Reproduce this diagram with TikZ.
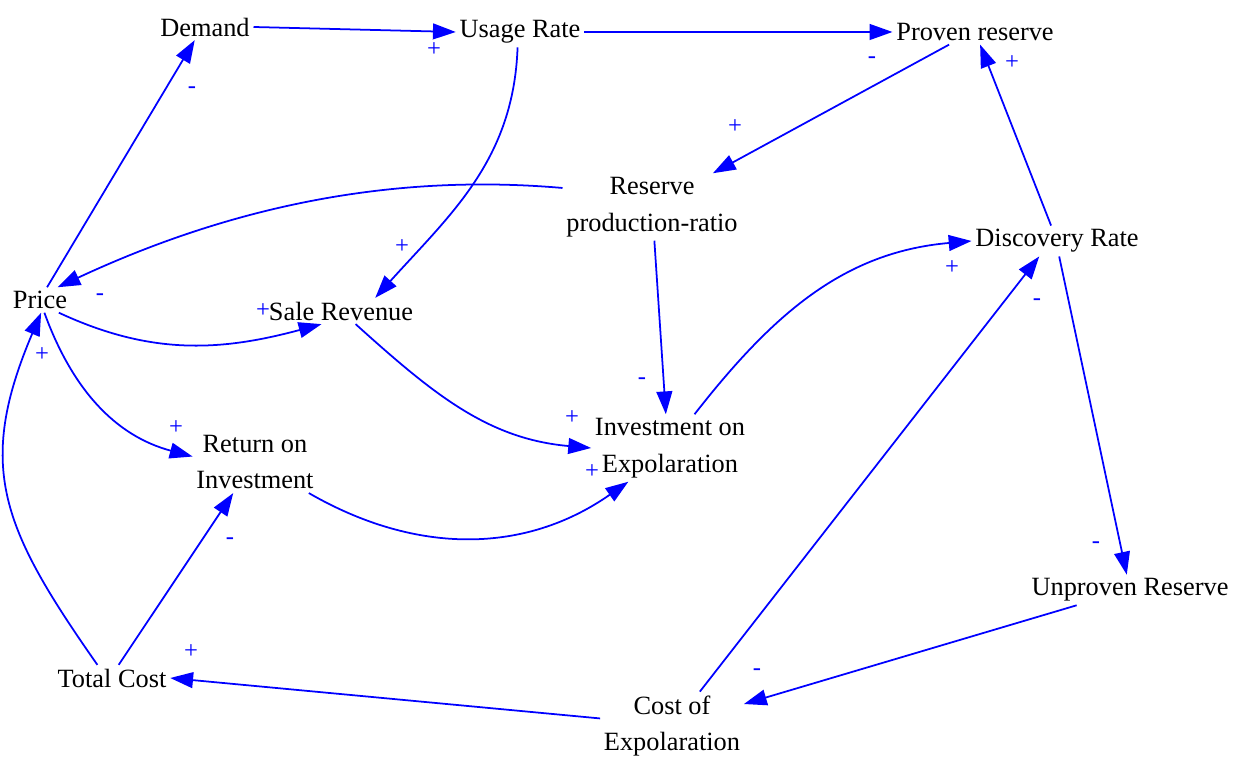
\documentclass[tikz,border=0pt]{standalone}
\usepackage{fontspec}
\setmainfont{Liberation Serif}
\usetikzlibrary{arrows.meta}

\begin{document}
\begin{tikzpicture}[x=0.02cm,y=0.02cm]
            \tikzset{VarStyle/.style={inner sep=2pt,align=center,font=\fontsize{15}{21}\selectfont}};
            \tikzset{SignStyle/.style={blue,inner sep=0pt,font=\fontsize{14}{14}\selectfont}};
            \tikzset{EdgeStyle/.style={blue,line width=1pt,-{Triangle[length=13pt,width=9pt]}}};
            \useasboundingbox (0,0) rectangle (1239,760);

            \node[VarStyle] (Demand) at (205,733) {Demand};
            \node[VarStyle] (Usage) at (520,728) {Usage Rate};
            \node[VarStyle] (Proven) at (975,728) {Proven reserve};
            \node[VarStyle] (Ratio) at (652,553) {Reserve\\production-ratio};
            \node[VarStyle] (Discovery) at (1057,519) {Discovery Rate};
            \node[VarStyle] (Price) at (40,460) {Price};
            \node[VarStyle] (Sale) at (341,449) {Sale Revenue};
            \node[VarStyle] (Invest) at (670,312) {Investment on\\Expolaration};
            \node[VarStyle] (Return) at (255,298) {Return on\\Investment};
            \node[VarStyle] (Unproven) at (1130,170) {Unproven Reserve};
            \node[VarStyle] (Total) at (112,82) {Total Cost};
            \node[VarStyle] (CostExp) at (672,34) {Cost of\\Expolaration};

            \draw[EdgeStyle] (Demand.east) -- (Usage.west);
            \draw[EdgeStyle] (Usage.east) -- (Proven.west);
            \draw[EdgeStyle] (Proven.206) -- (Ratio.29);
            \draw[EdgeStyle] (Discovery.111) -- (Proven.292);
            \draw[EdgeStyle] (Ratio.168) to[out=175,in=25,looseness=0.9] (Price.36);
            \draw[EdgeStyle] (Usage.261) to[out=268,in=48] (Sale.21);
            \draw[EdgeStyle] (Price.61) -- (Demand.232);
            \draw[EdgeStyle] (Price.326) to[out=-25,in=195] (Sale.214);
            \draw[EdgeStyle] (Price.289) to[out=-70,in=165] (Return.175);
            \draw[EdgeStyle] (Total.138) to[out=125,in=-113,looseness=1.2] (Price.275);
            \draw[EdgeStyle] (Total.63) -- (Return.235);
            \draw[EdgeStyle] (Sale.318) to[out=-42,in=175] (Invest.west);
            \draw[EdgeStyle] (Ratio.274) -- (Invest.97);
            \draw[EdgeStyle] (Return.330) to[out=-30,in=215] (Invest.219);
            \draw[EdgeStyle] (Invest.54) to[out=52,in=185] (Discovery.west);
            \draw[EdgeStyle] (CostExp.51) -- (Discovery.221);
            \draw[EdgeStyle] (Discovery.278) -- (Unproven.102);
            \draw[EdgeStyle] (Unproven.196) -- (CostExp.17);
            \draw[EdgeStyle] (CostExp.174) -- (Total.east);

            \node[SignStyle] (sDemUse) at (434,710) {+};
            \node[SignStyle] (sUseProv) at (872,700) {-};
            \node[SignStyle] (sProvRat) at (735,633) {+};
            \node[SignStyle] (sDiscProv) at (1012,697) {+};
            \node[SignStyle] (sRatPrice) at (100,463) {-};
            \node[SignStyle] (sUseSale) at (402,513) {+};
            \node[SignStyle] (sPriceDem) at (192,670) {-};
            \node[SignStyle] (sPriceSale) at (263,449) {+};
            \node[SignStyle] (sPriceRet) at (176,332) {+};
            \node[SignStyle] (sTotPrice) at (42,405) {+};
            \node[SignStyle] (sTotRet) at (230,219) {-};
            \node[SignStyle] (sSaleInv) at (572,342) {+};
            \node[SignStyle] (sRatInv) at (642,379) {-};
            \node[SignStyle] (sRetInv) at (592,288) {+};
            \node[SignStyle] (sInvDisc) at (952,492) {+};
            \node[SignStyle] (sCostDisc) at (1037,458) {-};
            \node[SignStyle] (sDiscUnp) at (1096,215) {-};
            \node[SignStyle] (sUnpCost) at (757,88) {-};
            \node[SignStyle] (sCostTot) at (191,108) {+};
\end{tikzpicture}
\end{document}
